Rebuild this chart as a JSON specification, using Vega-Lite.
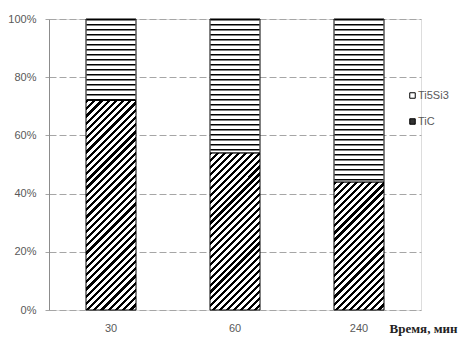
{
  "$schema": "https://vega.github.io/schema/vega-lite/v6.json",
  "width": 372,
  "height": 291,
  "autosize": "none",
  "padding": {"left": 49, "top": 19, "right": 44, "bottom": 45},
  "background": "white",
  "data": {
    "values": [
      {"time": 30, "phase": "TiC", "value": 72},
      {"time": 30, "phase": "Ti5Si3", "value": 28},
      {"time": 60, "phase": "TiC", "value": 54},
      {"time": 60, "phase": "Ti5Si3", "value": 46},
      {"time": 240, "phase": "TiC", "value": 44},
      {"time": 240, "phase": "Ti5Si3", "value": 56}
    ]
  },
  "transform": [
    {"stack": "value", "groupby": ["time"], "sort": [{"field": "phase", "order": "descending"}], "as": ["v0", "v1"]}
  ],
  "encoding": {
    "x": {
      "field": "time", "type": "ordinal", "sort": null,
      "scale": {"paddingInner": 0.6, "paddingOuter": 0.3},
      "axis": {
        "title": "Время, мин", "labelAngle": 0, "domain": false, "ticks": false,
        "labelPadding": 12, "labelFont": "Liberation Sans", "labelFontSize": 11, "labelColor": "#595959",
        "titleFont": "Liberation Serif", "titleFontSize": 13, "titleFontWeight": "bold", "titleColor": "#222222",
        "titleAnchor": "end", "titleAlign": "right", "titleBaseline": "middle", "titleX": 408, "titleY": 18
      }
    },
    "y": {
      "field": "v0", "type": "quantitative",
      "scale": {"domain": [0, 100]},
      "axis": {
        "title": null, "values": [0, 20, 40, 60, 80, 100], "labelExpr": "datum.value + '%'",
        "domain": true, "domainColor": "#8c8c8c", "ticks": true, "tickSize": 4, "tickColor": "#a6a6a6",
        "grid": true, "gridColor": "#a6a6a6", "gridDash": [7, 3], "gridWidth": 1,
        "labelPadding": 9, "labelFont": "Liberation Sans", "labelFontSize": 11, "labelColor": "#595959"
      }
    },
    "y2": {"field": "v1"}
  },
  "layer": [
    {
      "mark": {"type": "bar", "size": 50, "strokeWidth": 1},
      "encoding": {
        "stroke": {
          "field": "phase", "type": "nominal",
          "scale": {"domain": ["Ti5Si3", "TiC"], "range": ["#000000", "#000000"]},
          "legend": null
        },
        "fill": {
          "field": "phase", "type": "nominal",
          "scale": {"domain": ["Ti5Si3", "TiC"], "range": ["#ffffff", "#333333"]},
          "legend": {
            "title": null, "orient": "none", "legendX": 358, "legendY": 71,
            "symbolType": "square", "symbolSize": 30, "symbolStrokeWidth": 1, "symbolStrokeColor": "#000000",
            "labelFont": "Liberation Sans", "labelFontSize": 11, "labelColor": "#595959",
            "labelOffset": 0, "rowPadding": 14
          },
          "condition": [
            {"test": "datum.time === 30 && datum.phase === 'TiC'", "value": {"gradient": "linear", "x1": 0, "y1": 0, "x2": 0.2797, "y2": 1.1719, "stops": [
              {"offset":0,"color":"#000"},{"offset":0.0125,"color":"#000"},{"offset":0.0125,"color":"#fff"},{"offset":0.0278,"color":"#fff"},
              {"offset":0.0278,"color":"#000"},{"offset":0.0403,"color":"#000"},{"offset":0.0403,"color":"#fff"},{"offset":0.0556,"color":"#fff"},
              {"offset":0.0556,"color":"#000"},{"offset":0.0681,"color":"#000"},{"offset":0.0681,"color":"#fff"},{"offset":0.0833,"color":"#fff"},
              {"offset":0.0833,"color":"#000"},{"offset":0.0958,"color":"#000"},{"offset":0.0958,"color":"#fff"},{"offset":0.1111,"color":"#fff"},
              {"offset":0.1111,"color":"#000"},{"offset":0.1236,"color":"#000"},{"offset":0.1236,"color":"#fff"},{"offset":0.1389,"color":"#fff"},
              {"offset":0.1389,"color":"#000"},{"offset":0.1514,"color":"#000"},{"offset":0.1514,"color":"#fff"},{"offset":0.1667,"color":"#fff"},
              {"offset":0.1667,"color":"#000"},{"offset":0.1792,"color":"#000"},{"offset":0.1792,"color":"#fff"},{"offset":0.1944,"color":"#fff"},
              {"offset":0.1944,"color":"#000"},{"offset":0.2069,"color":"#000"},{"offset":0.2069,"color":"#fff"},{"offset":0.2222,"color":"#fff"},
              {"offset":0.2222,"color":"#000"},{"offset":0.2347,"color":"#000"},{"offset":0.2347,"color":"#fff"},{"offset":0.25,"color":"#fff"},
              {"offset":0.25,"color":"#000"},{"offset":0.2625,"color":"#000"},{"offset":0.2625,"color":"#fff"},{"offset":0.2778,"color":"#fff"},
              {"offset":0.2778,"color":"#000"},{"offset":0.2903,"color":"#000"},{"offset":0.2903,"color":"#fff"},{"offset":0.3056,"color":"#fff"},
              {"offset":0.3056,"color":"#000"},{"offset":0.3181,"color":"#000"},{"offset":0.3181,"color":"#fff"},{"offset":0.3333,"color":"#fff"},
              {"offset":0.3333,"color":"#000"},{"offset":0.3458,"color":"#000"},{"offset":0.3458,"color":"#fff"},{"offset":0.3611,"color":"#fff"},
              {"offset":0.3611,"color":"#000"},{"offset":0.3736,"color":"#000"},{"offset":0.3736,"color":"#fff"},{"offset":0.3889,"color":"#fff"},
              {"offset":0.3889,"color":"#000"},{"offset":0.4014,"color":"#000"},{"offset":0.4014,"color":"#fff"},{"offset":0.4167,"color":"#fff"},
              {"offset":0.4167,"color":"#000"},{"offset":0.4292,"color":"#000"},{"offset":0.4292,"color":"#fff"},{"offset":0.4444,"color":"#fff"},
              {"offset":0.4444,"color":"#000"},{"offset":0.4569,"color":"#000"},{"offset":0.4569,"color":"#fff"},{"offset":0.4722,"color":"#fff"},
              {"offset":0.4722,"color":"#000"},{"offset":0.4847,"color":"#000"},{"offset":0.4847,"color":"#fff"},{"offset":0.5,"color":"#fff"},
              {"offset":0.5,"color":"#000"},{"offset":0.5125,"color":"#000"},{"offset":0.5125,"color":"#fff"},{"offset":0.5278,"color":"#fff"},
              {"offset":0.5278,"color":"#000"},{"offset":0.5403,"color":"#000"},{"offset":0.5403,"color":"#fff"},{"offset":0.5556,"color":"#fff"},
              {"offset":0.5556,"color":"#000"},{"offset":0.5681,"color":"#000"},{"offset":0.5681,"color":"#fff"},{"offset":0.5833,"color":"#fff"},
              {"offset":0.5833,"color":"#000"},{"offset":0.5958,"color":"#000"},{"offset":0.5958,"color":"#fff"},{"offset":0.6111,"color":"#fff"},
              {"offset":0.6111,"color":"#000"},{"offset":0.6236,"color":"#000"},{"offset":0.6236,"color":"#fff"},{"offset":0.6389,"color":"#fff"},
              {"offset":0.6389,"color":"#000"},{"offset":0.6514,"color":"#000"},{"offset":0.6514,"color":"#fff"},{"offset":0.6667,"color":"#fff"},
              {"offset":0.6667,"color":"#000"},{"offset":0.6792,"color":"#000"},{"offset":0.6792,"color":"#fff"},{"offset":0.6944,"color":"#fff"},
              {"offset":0.6944,"color":"#000"},{"offset":0.7069,"color":"#000"},{"offset":0.7069,"color":"#fff"},{"offset":0.7222,"color":"#fff"},
              {"offset":0.7222,"color":"#000"},{"offset":0.7347,"color":"#000"},{"offset":0.7347,"color":"#fff"},{"offset":0.75,"color":"#fff"},
              {"offset":0.75,"color":"#000"},{"offset":0.7625,"color":"#000"},{"offset":0.7625,"color":"#fff"},{"offset":0.7778,"color":"#fff"},
              {"offset":0.7778,"color":"#000"},{"offset":0.7903,"color":"#000"},{"offset":0.7903,"color":"#fff"},{"offset":0.8056,"color":"#fff"},
              {"offset":0.8056,"color":"#000"},{"offset":0.8181,"color":"#000"},{"offset":0.8181,"color":"#fff"},{"offset":0.8333,"color":"#fff"},
              {"offset":0.8333,"color":"#000"},{"offset":0.8458,"color":"#000"},{"offset":0.8458,"color":"#fff"},{"offset":0.8611,"color":"#fff"},
              {"offset":0.8611,"color":"#000"},{"offset":0.8736,"color":"#000"},{"offset":0.8736,"color":"#fff"},{"offset":0.8889,"color":"#fff"},
              {"offset":0.8889,"color":"#000"},{"offset":0.9014,"color":"#000"},{"offset":0.9014,"color":"#fff"},{"offset":0.9167,"color":"#fff"},
              {"offset":0.9167,"color":"#000"},{"offset":0.9292,"color":"#000"},{"offset":0.9292,"color":"#fff"},{"offset":0.9444,"color":"#fff"},
              {"offset":0.9444,"color":"#000"},{"offset":0.9569,"color":"#000"},{"offset":0.9569,"color":"#fff"},{"offset":0.9722,"color":"#fff"},
              {"offset":0.9722,"color":"#000"},{"offset":0.9847,"color":"#000"},{"offset":0.9847,"color":"#fff"},{"offset":1,"color":"#fff"}
            ]}},
            {"test": "datum.time === 60 && datum.phase === 'TiC'", "value": {"gradient": "linear", "x1": 0, "y1": 0, "x2": 0.3809, "y2": 1.197, "stops": [
              {"offset":0,"color":"#000"},{"offset":0.015,"color":"#000"},{"offset":0.015,"color":"#fff"},{"offset":0.0333,"color":"#fff"},
              {"offset":0.0333,"color":"#000"},{"offset":0.0483,"color":"#000"},{"offset":0.0483,"color":"#fff"},{"offset":0.0667,"color":"#fff"},
              {"offset":0.0667,"color":"#000"},{"offset":0.0817,"color":"#000"},{"offset":0.0817,"color":"#fff"},{"offset":0.1,"color":"#fff"},
              {"offset":0.1,"color":"#000"},{"offset":0.115,"color":"#000"},{"offset":0.115,"color":"#fff"},{"offset":0.1333,"color":"#fff"},
              {"offset":0.1333,"color":"#000"},{"offset":0.1483,"color":"#000"},{"offset":0.1483,"color":"#fff"},{"offset":0.1667,"color":"#fff"},
              {"offset":0.1667,"color":"#000"},{"offset":0.1817,"color":"#000"},{"offset":0.1817,"color":"#fff"},{"offset":0.2,"color":"#fff"},
              {"offset":0.2,"color":"#000"},{"offset":0.215,"color":"#000"},{"offset":0.215,"color":"#fff"},{"offset":0.2333,"color":"#fff"},
              {"offset":0.2333,"color":"#000"},{"offset":0.2483,"color":"#000"},{"offset":0.2483,"color":"#fff"},{"offset":0.2667,"color":"#fff"},
              {"offset":0.2667,"color":"#000"},{"offset":0.2817,"color":"#000"},{"offset":0.2817,"color":"#fff"},{"offset":0.3,"color":"#fff"},
              {"offset":0.3,"color":"#000"},{"offset":0.315,"color":"#000"},{"offset":0.315,"color":"#fff"},{"offset":0.3333,"color":"#fff"},
              {"offset":0.3333,"color":"#000"},{"offset":0.3483,"color":"#000"},{"offset":0.3483,"color":"#fff"},{"offset":0.3667,"color":"#fff"},
              {"offset":0.3667,"color":"#000"},{"offset":0.3817,"color":"#000"},{"offset":0.3817,"color":"#fff"},{"offset":0.4,"color":"#fff"},
              {"offset":0.4,"color":"#000"},{"offset":0.415,"color":"#000"},{"offset":0.415,"color":"#fff"},{"offset":0.4333,"color":"#fff"},
              {"offset":0.4333,"color":"#000"},{"offset":0.4483,"color":"#000"},{"offset":0.4483,"color":"#fff"},{"offset":0.4667,"color":"#fff"},
              {"offset":0.4667,"color":"#000"},{"offset":0.4817,"color":"#000"},{"offset":0.4817,"color":"#fff"},{"offset":0.5,"color":"#fff"},
              {"offset":0.5,"color":"#000"},{"offset":0.515,"color":"#000"},{"offset":0.515,"color":"#fff"},{"offset":0.5333,"color":"#fff"},
              {"offset":0.5333,"color":"#000"},{"offset":0.5483,"color":"#000"},{"offset":0.5483,"color":"#fff"},{"offset":0.5667,"color":"#fff"},
              {"offset":0.5667,"color":"#000"},{"offset":0.5817,"color":"#000"},{"offset":0.5817,"color":"#fff"},{"offset":0.6,"color":"#fff"},
              {"offset":0.6,"color":"#000"},{"offset":0.615,"color":"#000"},{"offset":0.615,"color":"#fff"},{"offset":0.6333,"color":"#fff"},
              {"offset":0.6333,"color":"#000"},{"offset":0.6483,"color":"#000"},{"offset":0.6483,"color":"#fff"},{"offset":0.6667,"color":"#fff"},
              {"offset":0.6667,"color":"#000"},{"offset":0.6817,"color":"#000"},{"offset":0.6817,"color":"#fff"},{"offset":0.7,"color":"#fff"},
              {"offset":0.7,"color":"#000"},{"offset":0.715,"color":"#000"},{"offset":0.715,"color":"#fff"},{"offset":0.7333,"color":"#fff"},
              {"offset":0.7333,"color":"#000"},{"offset":0.7483,"color":"#000"},{"offset":0.7483,"color":"#fff"},{"offset":0.7667,"color":"#fff"},
              {"offset":0.7667,"color":"#000"},{"offset":0.7817,"color":"#000"},{"offset":0.7817,"color":"#fff"},{"offset":0.8,"color":"#fff"},
              {"offset":0.8,"color":"#000"},{"offset":0.815,"color":"#000"},{"offset":0.815,"color":"#fff"},{"offset":0.8333,"color":"#fff"},
              {"offset":0.8333,"color":"#000"},{"offset":0.8483,"color":"#000"},{"offset":0.8483,"color":"#fff"},{"offset":0.8667,"color":"#fff"},
              {"offset":0.8667,"color":"#000"},{"offset":0.8817,"color":"#000"},{"offset":0.8817,"color":"#fff"},{"offset":0.9,"color":"#fff"},
              {"offset":0.9,"color":"#000"},{"offset":0.915,"color":"#000"},{"offset":0.915,"color":"#fff"},{"offset":0.9333,"color":"#fff"},
              {"offset":0.9333,"color":"#000"},{"offset":0.9483,"color":"#000"},{"offset":0.9483,"color":"#fff"},{"offset":0.9667,"color":"#fff"},
              {"offset":0.9667,"color":"#000"},{"offset":0.9817,"color":"#000"},{"offset":0.9817,"color":"#fff"},{"offset":1,"color":"#fff"}
            ]}},
            {"test": "datum.time === 240 && datum.phase === 'TiC'", "value": {"gradient": "linear", "x1": 0, "y1": 0, "x2": 0.4712, "y2": 1.2065, "stops": [
              {"offset":0,"color":"#000"},{"offset":0.018,"color":"#000"},{"offset":0.018,"color":"#fff"},{"offset":0.04,"color":"#fff"},
              {"offset":0.04,"color":"#000"},{"offset":0.058,"color":"#000"},{"offset":0.058,"color":"#fff"},{"offset":0.08,"color":"#fff"},
              {"offset":0.08,"color":"#000"},{"offset":0.098,"color":"#000"},{"offset":0.098,"color":"#fff"},{"offset":0.12,"color":"#fff"},
              {"offset":0.12,"color":"#000"},{"offset":0.138,"color":"#000"},{"offset":0.138,"color":"#fff"},{"offset":0.16,"color":"#fff"},
              {"offset":0.16,"color":"#000"},{"offset":0.178,"color":"#000"},{"offset":0.178,"color":"#fff"},{"offset":0.2,"color":"#fff"},
              {"offset":0.2,"color":"#000"},{"offset":0.218,"color":"#000"},{"offset":0.218,"color":"#fff"},{"offset":0.24,"color":"#fff"},
              {"offset":0.24,"color":"#000"},{"offset":0.258,"color":"#000"},{"offset":0.258,"color":"#fff"},{"offset":0.28,"color":"#fff"},
              {"offset":0.28,"color":"#000"},{"offset":0.298,"color":"#000"},{"offset":0.298,"color":"#fff"},{"offset":0.32,"color":"#fff"},
              {"offset":0.32,"color":"#000"},{"offset":0.338,"color":"#000"},{"offset":0.338,"color":"#fff"},{"offset":0.36,"color":"#fff"},
              {"offset":0.36,"color":"#000"},{"offset":0.378,"color":"#000"},{"offset":0.378,"color":"#fff"},{"offset":0.4,"color":"#fff"},
              {"offset":0.4,"color":"#000"},{"offset":0.418,"color":"#000"},{"offset":0.418,"color":"#fff"},{"offset":0.44,"color":"#fff"},
              {"offset":0.44,"color":"#000"},{"offset":0.458,"color":"#000"},{"offset":0.458,"color":"#fff"},{"offset":0.48,"color":"#fff"},
              {"offset":0.48,"color":"#000"},{"offset":0.498,"color":"#000"},{"offset":0.498,"color":"#fff"},{"offset":0.52,"color":"#fff"},
              {"offset":0.52,"color":"#000"},{"offset":0.538,"color":"#000"},{"offset":0.538,"color":"#fff"},{"offset":0.56,"color":"#fff"},
              {"offset":0.56,"color":"#000"},{"offset":0.578,"color":"#000"},{"offset":0.578,"color":"#fff"},{"offset":0.6,"color":"#fff"},
              {"offset":0.6,"color":"#000"},{"offset":0.618,"color":"#000"},{"offset":0.618,"color":"#fff"},{"offset":0.64,"color":"#fff"},
              {"offset":0.64,"color":"#000"},{"offset":0.658,"color":"#000"},{"offset":0.658,"color":"#fff"},{"offset":0.68,"color":"#fff"},
              {"offset":0.68,"color":"#000"},{"offset":0.698,"color":"#000"},{"offset":0.698,"color":"#fff"},{"offset":0.72,"color":"#fff"},
              {"offset":0.72,"color":"#000"},{"offset":0.738,"color":"#000"},{"offset":0.738,"color":"#fff"},{"offset":0.76,"color":"#fff"},
              {"offset":0.76,"color":"#000"},{"offset":0.778,"color":"#000"},{"offset":0.778,"color":"#fff"},{"offset":0.8,"color":"#fff"},
              {"offset":0.8,"color":"#000"},{"offset":0.818,"color":"#000"},{"offset":0.818,"color":"#fff"},{"offset":0.84,"color":"#fff"},
              {"offset":0.84,"color":"#000"},{"offset":0.858,"color":"#000"},{"offset":0.858,"color":"#fff"},{"offset":0.88,"color":"#fff"},
              {"offset":0.88,"color":"#000"},{"offset":0.898,"color":"#000"},{"offset":0.898,"color":"#fff"},{"offset":0.92,"color":"#fff"},
              {"offset":0.92,"color":"#000"},{"offset":0.938,"color":"#000"},{"offset":0.938,"color":"#fff"},{"offset":0.96,"color":"#fff"},
              {"offset":0.96,"color":"#000"},{"offset":0.978,"color":"#000"},{"offset":0.978,"color":"#fff"},{"offset":1,"color":"#fff"}
            ]}}
          ]
        }
      }
    },
    {
      "transform": [{"filter": "datum.phase === 'Ti5Si3'"}],
      "mark": {"type": "rule", "stroke": "#000000", "strokeWidth": 49, "strokeDash": [1.6, 3.4], "strokeCap": "butt"},
      "encoding": {
        "y": {"field": "v1", "type": "quantitative"},
        "y2": {"field": "v0"}
      }
    }
  ]
}
